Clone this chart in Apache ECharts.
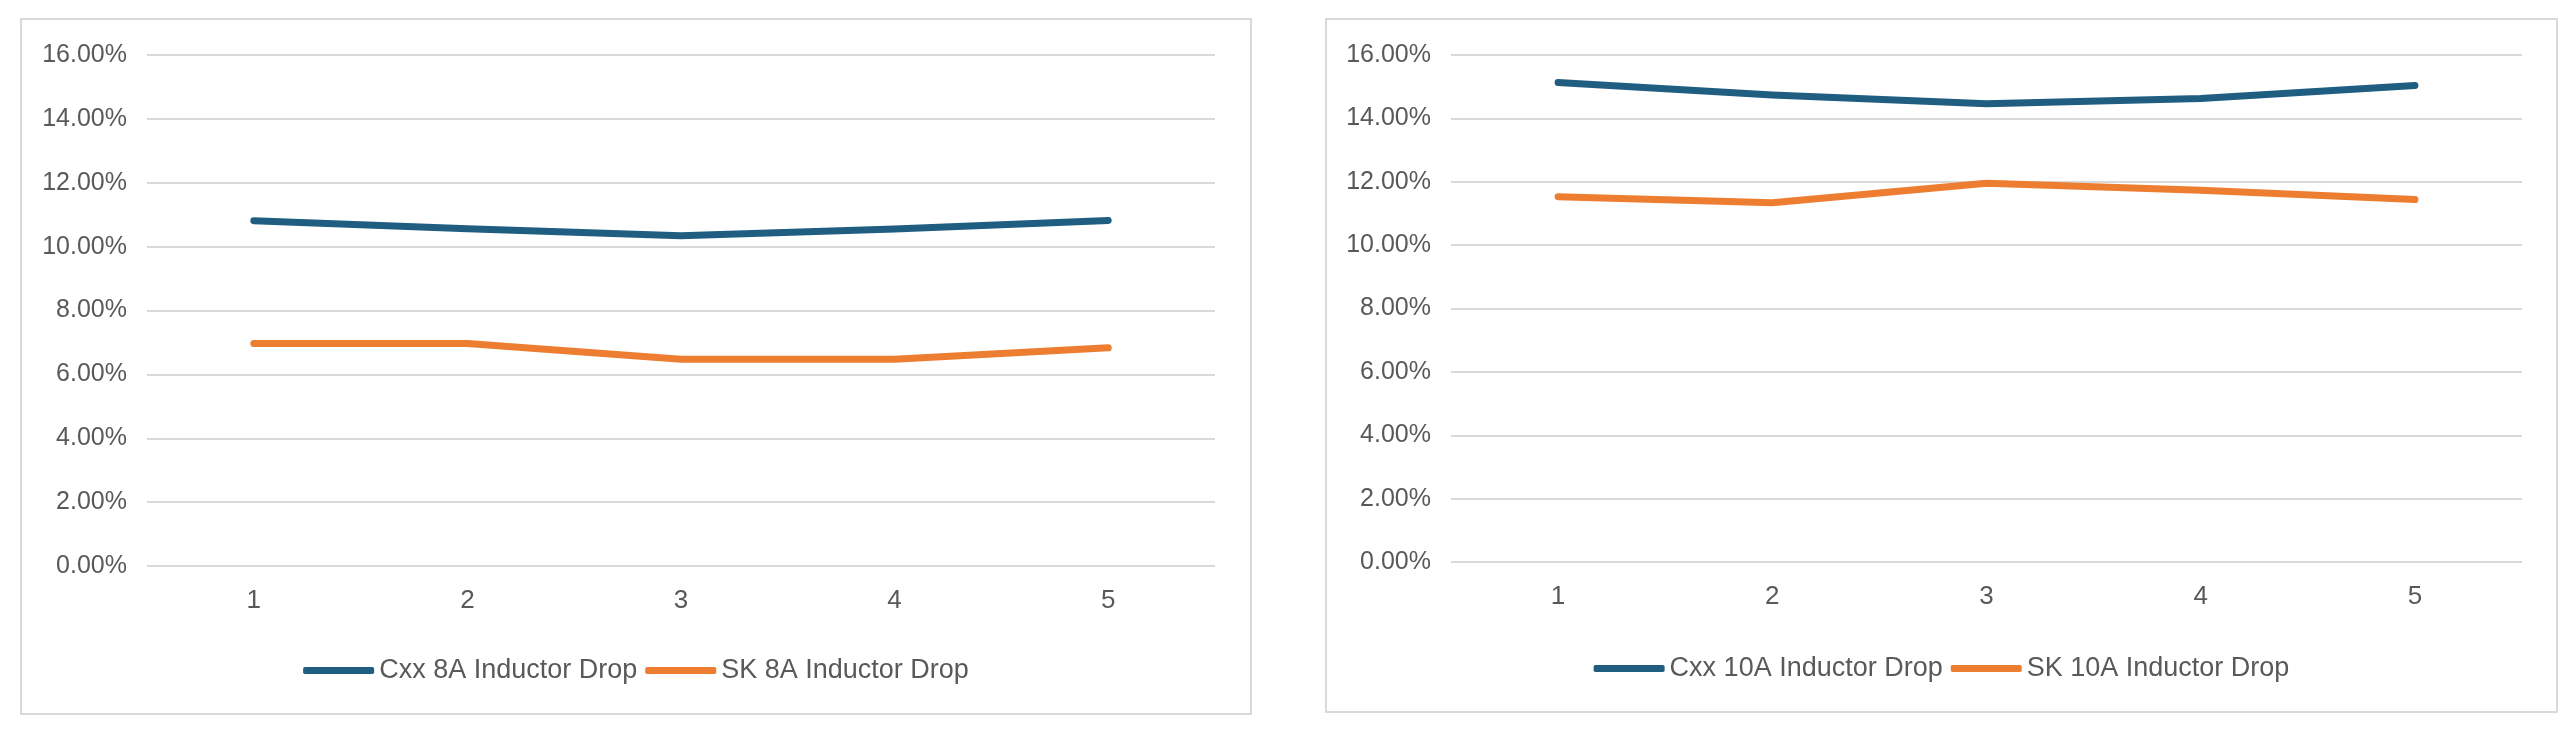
<!DOCTYPE html>
<html>
<head>
<meta charset="utf-8">
<script src="https://cdn.jsdelivr.net/npm/echarts@6/dist/echarts.min.js"></script>
<style>
  html, body { margin: 0; padding: 0; background: #ffffff; }
  body { width: 2572px; height: 732px; position: relative; overflow: hidden; }
  .panel { position: absolute; box-sizing: border-box; border: 2px solid #d9d9d9; background: #fff; }
  #left { left: 20px; top: 18px; width: 1232px; height: 697px; }
  #right { left: 1325px; top: 18px; width: 1233px; height: 695px; }
  .chart { width: 100%; height: 100%; }
</style>
</head>
<body>
<div class="panel" id="left"><div class="chart" id="c1"></div></div>
<div class="panel" id="right"><div class="chart" id="c2"></div></div>
<script>
// categories (x axis)
const categories = ['1', '2', '3', '4', '5'];

// left chart (8A), values in percent
const cxx8A = [10.81, 10.56, 10.34, 10.55, 10.82];
const sk8A  = [6.97, 6.97, 6.47, 6.47, 6.83];
const names8A = ['Cxx 8A Inductor Drop', 'SK 8A Inductor Drop'];

// right chart (10A), values in percent
const cxx10A = [15.13, 14.74, 14.46, 14.63, 15.04];
const sk10A  = [11.53, 11.34, 11.95, 11.73, 11.44];
const names10A = ['Cxx 10A Inductor Drop', 'SK 10A Inductor Drop'];

// y axis ticks
const yMin = 0, yMax = 16, yStep = 2;

const BLUE = '#1f5e81';
const ORANGE = '#ed7d31';
const TEXT = '#595959';
const GRID = '#d9d9d9';
const FONT = 'Liberation Sans, Arial, sans-serif';

function makeOption(seriesA, seriesB, names, grid, legendTop) {
  return {
    animation: false,
    textStyle: { fontFamily: FONT },
    grid: grid,
    legend: {
      top: legendTop,
      left: 'center',
      icon: 'roundRect',
      itemWidth: 71,
      itemHeight: 7,
      itemGap: 8,
      textStyle: { color: TEXT, fontSize: 27, fontFamily: FONT },
      data: names
    },
    xAxis: {
      type: 'category',
      data: categories,
      boundaryGap: true,
      axisLine: { show: false },
      axisTick: { show: false },
      axisLabel: { color: TEXT, fontSize: 26, margin: 22, fontFamily: FONT }
    },
    yAxis: {
      type: 'value',
      min: yMin,
      max: yMax,
      interval: yStep,
      axisLine: { show: false },
      axisTick: { show: false },
      splitLine: { lineStyle: { color: GRID, width: 2 } },
      axisLabel: {
        color: TEXT, fontSize: 25, margin: 20, fontFamily: FONT,
        formatter: v => v.toFixed(2) + '%'
      }
    },
    series: [
      {
        name: names[0], type: 'line', data: seriesA, symbol: 'none',
        lineStyle: { color: BLUE, width: 7, cap: 'round', join: 'round' },
        itemStyle: { color: BLUE }
      },
      {
        name: names[1], type: 'line', data: seriesB, symbol: 'none',
        lineStyle: { color: ORANGE, width: 7, cap: 'round', join: 'round' },
        itemStyle: { color: ORANGE }
      }
    ]
  };
}

const c1 = echarts.init(document.getElementById('c1'));
c1.setOption(makeOption(cxx8A, sk8A, names8A,
  { left: 125, right: 35, top: 35, bottom: 147, containLabel: false }, 632));

const c2 = echarts.init(document.getElementById('c2'));
c2.setOption(makeOption(cxx10A, sk10A, names10A,
  { left: 124, right: 34, top: 35, bottom: 149, containLabel: false }, 630));
</script>
</body>
</html>
